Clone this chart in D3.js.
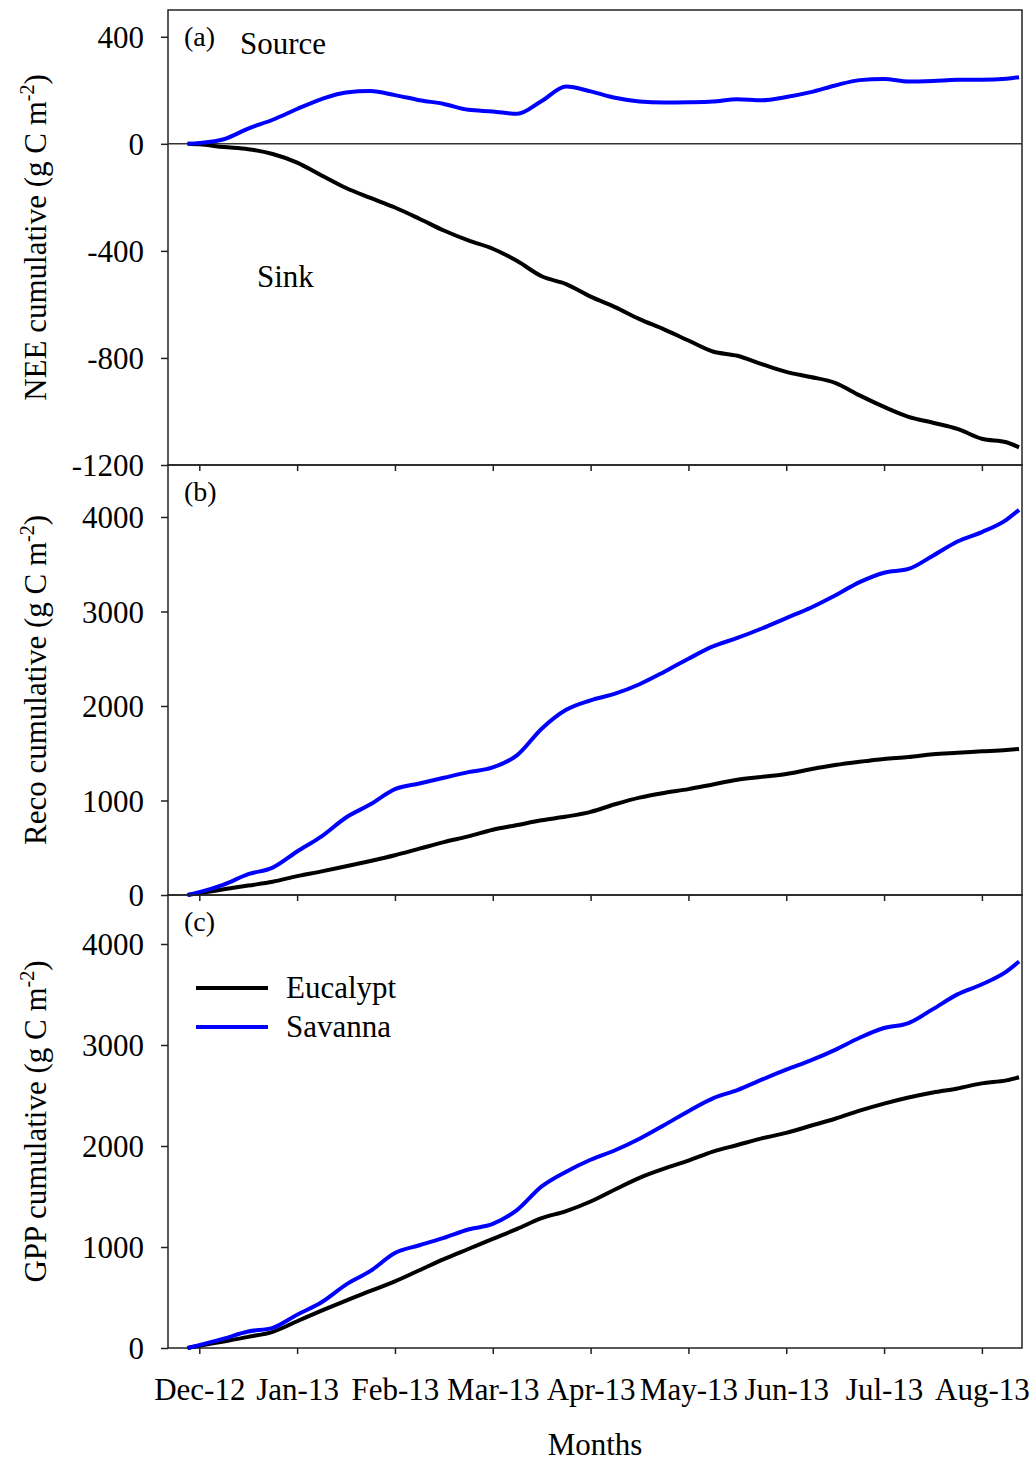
<html>
<head>
<meta charset="utf-8">
<style>
body { margin: 0; background: #fff; }
svg text { font-family: "Liberation Serif", "Times New Roman", serif; fill: #000; }
</style>
</head>
<body>

<svg id="chart" width="1036" height="1461"></svg>

<script src="https://cdn.jsdelivr.net/npm/d3@7/dist/d3.min.js"></script>
<script>
// month tick labels (evenly spaced on the x axis)
var monthLabels = ["Dec-12", "Jan-13", "Feb-13", "Mar-13", "Apr-13", "May-13", "Jun-13", "Jul-13", "Aug-13"];
var monthTicks = [0, 1, 2, 3, 4, 5, 6, 7, 8];

// sample positions, in months from Dec-12
var xMonths = [-0.12, 0, 0.25, 0.5, 0.75, 1, 1.25, 1.5, 1.75, 2, 2.25, 2.5, 2.75, 3, 3.25, 3.5, 3.75, 4,
    4.25, 4.5, 4.75, 5, 5.25, 5.5, 5.75, 6, 6.25, 6.5, 6.75, 7, 7.25, 7.5, 7.75, 8, 8.25, 8.38];

// (a) NEE cumulative (g C m-2)
var neeEucalypt = [0, -2, -12, -20, -38, -70, -118, -165, -202, -238, -280, -324, -361, -392, -438, -495, -524, -571,
    -610, -655, -693, -735, -776, -792, -823, -852, -871, -893, -940, -983, -1020, -1042, -1065, -1102, -1115, -1134];
var neeSavanna = [0, 3, 17, 57, 90, 130, 167, 192, 197, 182, 163, 149, 127, 121, 112, 160, 214, 196,
    172, 158, 154, 155, 158, 167, 163, 175, 193, 218, 238, 242, 233, 235, 239, 239, 243, 249];

// (b) Reco cumulative
var recoEucalypt = [0, 20, 60, 100, 140, 200, 250, 305, 360, 420, 490, 560, 620, 690, 740, 790, 830, 880,
    960, 1030, 1080, 1120, 1170, 1220, 1250, 1280, 1330, 1375, 1410, 1440, 1460, 1490, 1505, 1520, 1535, 1545];
var recoSavanna = [0, 30, 110, 220, 290, 460, 620, 820, 960, 1120, 1180, 1240, 1300, 1350, 1480, 1760, 1960, 2060,
    2130, 2230, 2360, 2500, 2630, 2720, 2820, 2930, 3040, 3170, 3310, 3410, 3450, 3590, 3740, 3840, 3970, 4075];

// (c) GPP cumulative
var gppEucalypt = [0, 22, 65, 110, 160, 265, 370, 470, 565, 660, 770, 880, 980, 1080, 1180, 1285, 1355, 1450,
    1570, 1685, 1775, 1855, 1945, 2010, 2075, 2130, 2200, 2270, 2350, 2420, 2480, 2530, 2570, 2620, 2650, 2680];
var gppSavanna = [0, 28, 93, 163, 200, 330, 453, 628, 763, 940, 1017, 1091, 1173, 1229, 1368, 1600, 1746, 1864,
    1958, 2072, 2206, 2345, 2472, 2553, 2657, 2755, 2847, 2952, 3072, 3168, 3217, 3355, 3501, 3601, 3727, 3826];

var seriesNames = ["Eucalypt", "Savanna"];
var seriesColors = ["#000000", "#0000ff"];

var left = 168, right = 1022;
var fontSize = 31;

var panels = [
    {tag: "(a)", top: 10, bottom: 465, domain: [-1200, 500], ticks: [-1200, -800, -400, 0, 400],
     title: "NEE cumulative", data: [neeEucalypt, neeSavanna]},
    {tag: "(b)", top: 465, bottom: 895, domain: [0, 4550], ticks: [0, 1000, 2000, 3000, 4000],
     title: "Reco cumulative", data: [recoEucalypt, recoSavanna]},
    {tag: "(c)", top: 895, bottom: 1348, domain: [0, 4485], ticks: [0, 1000, 2000, 3000, 4000],
     title: "GPP cumulative", data: [gppEucalypt, gppSavanna]}
];

var svg = d3.select("svg#chart");

svg.append("rect")
    .attr("width", 1036)
    .attr("height", 1461)
    .attr("fill", "#fff");

var x = d3.scaleLinear()
    .domain([-0.32, 8.41])
    .range([left, right]);

panels.forEach(function(p, pi) {

    var y = d3.scaleLinear()
        .domain(p.domain)
        .range([p.bottom, p.top]);

    var g = svg.append("g").attr("class", "panel");

    // y axis
    var yAxis = g.append("g")
        .attr("transform", "translate(" + left + ",0)")
        .call(d3.axisLeft(y).tickValues(p.ticks).tickSize(7).tickPadding(17)
            .tickFormat(function(d) { return String(d); }));
    yAxis.select(".domain").remove();
    yAxis.selectAll("line").attr("stroke", "#222").attr("stroke-width", 1.5);
    yAxis.selectAll("text")
        .attr("font-size", fontSize)
        .attr("font-family", "'Liberation Serif', 'Times New Roman', serif")
        .attr("dy", "0.34em");

    // x axis ticks on every panel, labels only on the last one
    var xAxis = g.append("g")
        .attr("transform", "translate(0," + p.bottom + ")")
        .call(d3.axisBottom(x).tickValues(monthTicks).tickSize(6).tickPadding(24)
            .tickFormat(function(d, i) { return pi == 2 ? monthLabels[i] : ""; }));
    xAxis.select(".domain").remove();
    xAxis.selectAll("line").attr("stroke", "#222").attr("stroke-width", 1.5);
    xAxis.selectAll("text")
        .attr("font-size", fontSize)
        .attr("font-family", "'Liberation Serif', 'Times New Roman', serif");

    // frame
    g.append("rect")
        .attr("x", left)
        .attr("y", p.top)
        .attr("width", right - left)
        .attr("height", p.bottom - p.top)
        .attr("fill", "none")
        .attr("stroke", "#222")
        .attr("stroke-width", 1.5);

    // zero line for NEE
    if (p.domain[0] < 0) {
        g.append("line")
            .attr("x1", left)
            .attr("x2", right)
            .attr("y1", y(0))
            .attr("y2", y(0))
            .attr("stroke", "#333")
            .attr("stroke-width", 1.5);
    }

    var line = d3.line()
        .x(function(d, i) { return x(xMonths[i]); })
        .y(function(d) { return y(d); })
        .curve(d3.curveMonotoneX);

    p.data.forEach(function(values, si) {
        g.append("path")
            .datum(values)
            .attr("d", line)
            .attr("fill", "none")
            .attr("stroke", seriesColors[si])
            .attr("stroke-width", 4)
            .attr("stroke-linejoin", "round");
    });

    // panel tag
    g.append("text")
        .attr("x", 184)
        .attr("y", p.top + 36)
        .attr("font-size", 28)
        .text(p.tag);

    // y title with superscript
    var t = g.append("text")
        .attr("transform", "translate(46," + (p.top + p.bottom) / 2 + ") rotate(-90)")
        .attr("text-anchor", "middle")
        .attr("font-size", fontSize);
    t.append("tspan").text(p.title + " (g C m");
    t.append("tspan").attr("font-size", 20).attr("dy", -12).text("-2");
    t.append("tspan").attr("dy", 12).text(")");
});

// Source / Sink labels
svg.append("text").attr("x", 240).attr("y", 54).attr("font-size", fontSize).text("Source");
svg.append("text").attr("x", 257).attr("y", 287).attr("font-size", fontSize).text("Sink");

// legend
seriesNames.forEach(function(name, i) {
    var ly = 988 + i * 39;
    svg.append("line")
        .attr("x1", 196)
        .attr("x2", 268)
        .attr("y1", ly)
        .attr("y2", ly)
        .attr("stroke", seriesColors[i])
        .attr("stroke-width", 4);
    svg.append("text")
        .attr("x", 286)
        .attr("y", ly + 10)
        .attr("font-size", fontSize)
        .text(name);
});

// x label
svg.append("text")
    .attr("x", 595)
    .attr("y", 1455)
    .attr("text-anchor", "middle")
    .attr("font-size", fontSize)
    .text("Months");
</script>
</body>
</html>
